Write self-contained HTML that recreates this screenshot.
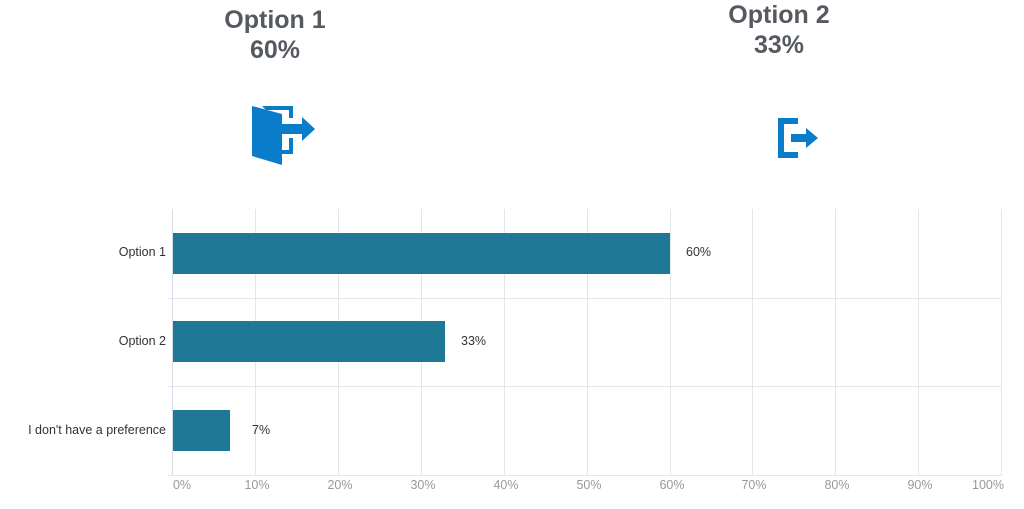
<!DOCTYPE html>
<html><head><style>
body{margin:0;width:1024px;height:509px;background:#fff;overflow:hidden;position:relative;font-family:"Liberation Sans",sans-serif}
.h{position:absolute;font-weight:bold;color:#555a60;font-size:25px;text-align:center;line-height:30px;width:200px}
</style></head><body>
<div class="h" style="left:175px;top:5px">Option 1<br>60%</div>
<div class="h" style="left:679px;top:0px">Option 2<br>33%</div>
<svg width="1024" height="509" style="position:absolute;left:0;top:0">
<!-- door icon -->
<g fill="#0a7cc9">
<path d="M252 106 L282 114 L282 165 L252 156 Z"/>
<path d="M262 106 L293 106 L293 118 L289 118 L289 110 L266 110 Z"/>
<path d="M289 138 L293 138 L293 154 L282 154 L282 150 L289 150 Z"/>
<path d="M282 124 L302 124 L302 117 L315 129 L302 141 L302 134 L282 134 Z"/>
<path d="M778 118 L798 118 L798 124 L784 124 L784 152 L798 152 L798 158 L778 158 Z"/>
<path d="M791 134 L806 134 L806 128 L818 138 L806 148 L806 142 L791 142 Z"/>
</g>
<g stroke="#e3e6ea" stroke-width="1">
<line x1="255.5" y1="209" x2="255.5" y2="475"/><line x1="338.5" y1="209" x2="338.5" y2="475"/>
<line x1="421.5" y1="209" x2="421.5" y2="475"/><line x1="504.5" y1="209" x2="504.5" y2="475"/>
<line x1="587.5" y1="209" x2="587.5" y2="475"/><line x1="670.5" y1="209" x2="670.5" y2="475"/>
<line x1="752.5" y1="209" x2="752.5" y2="475"/><line x1="835.5" y1="209" x2="835.5" y2="475"/>
<line x1="918.5" y1="209" x2="918.5" y2="475"/><line x1="1001.5" y1="209" x2="1001.5" y2="475"/>
<line x1="168" y1="298.5" x2="1002" y2="298.5"/><line x1="168" y1="386.5" x2="1002" y2="386.5"/>
<line x1="168" y1="475.5" x2="1002" y2="475.5"/>
</g>
<line x1="172.5" y1="209" x2="172.5" y2="475" stroke="#d5dce6"/>
<g fill="#1f7896">
<rect x="173" y="233" width="497" height="41"/>
<rect x="173" y="321" width="272" height="41"/>
<rect x="173" y="410" width="57" height="41"/>
</g>
<g font-size="12.5" fill="#333" text-anchor="end">
<text x="166" y="256">Option 1</text><text x="166" y="345">Option 2</text><text x="166" y="434">I don't have a preference</text>
</g>
<g font-size="12.5" fill="#333">
<text x="686" y="256">60%</text><text x="461" y="345">33%</text><text x="252" y="434">7%</text>
</g>
<g font-size="12.5" fill="#999" text-anchor="middle">
<text x="182" y="489">0%</text><text x="257" y="489">10%</text><text x="340" y="489">20%</text>
<text x="423" y="489">30%</text><text x="506" y="489">40%</text><text x="589" y="489">50%</text>
<text x="672" y="489">60%</text><text x="754" y="489">70%</text><text x="837" y="489">80%</text>
<text x="920" y="489">90%</text><text x="988" y="489">100%</text>
</g>
</svg>
</body></html>
